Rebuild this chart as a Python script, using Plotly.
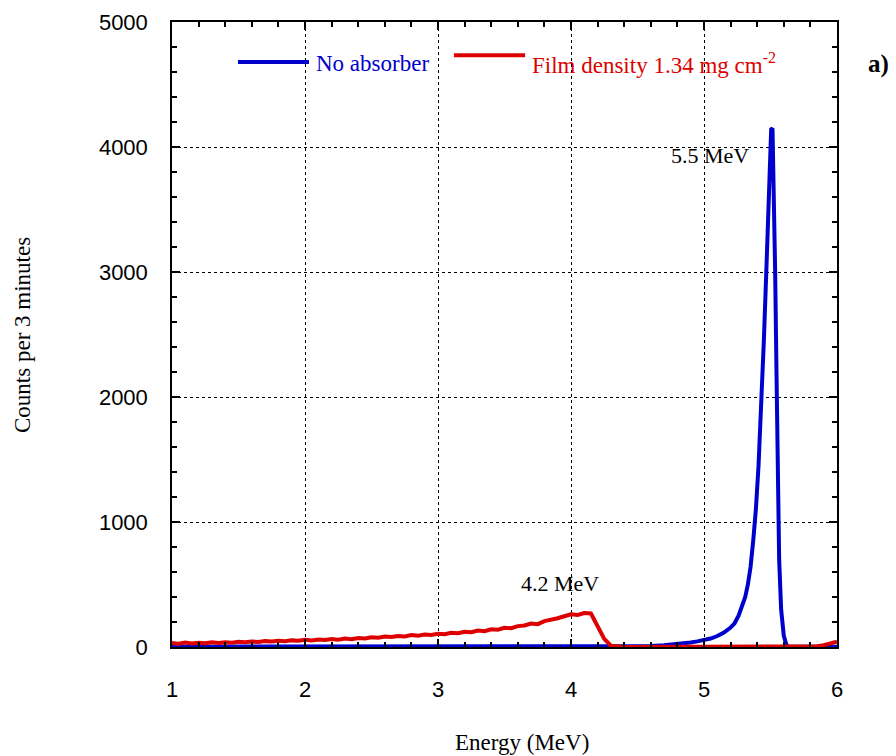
import plotly.graph_objects as go

# ---- data ----
red_x = [round(1.0 + 0.05 * i, 2) for i in range(101)]
red_y = [32, 27, 35, 29, 34, 31, 37, 33, 38, 35,
         41, 38, 44, 40, 47, 44, 50, 47, 53, 50,
         57, 53, 60, 56, 63, 59, 67, 63, 72, 68,
         78, 74, 84, 80, 88, 85, 95, 90, 100, 96,
         106, 102, 114, 110, 122, 118, 132, 127, 142, 138,
         154, 150, 167, 172, 188, 183, 207, 216, 230, 246,
         262, 256, 272, 268, 160, 65, 10, 3, 0, 0,
         0, 0, 0, 0, 0, 0, 0, 0, 0, 0,
         0, 0, 0, 0, 0, 0, 0, 0, 0, 0,
         0, 0, 0, 0, 0, 0, 3, 6, 14, 26, 42]

blue_x = [1.0, 1.5, 2.0, 2.5, 3.0, 3.5, 4.0, 4.3, 4.4, 4.5, 4.6, 4.7, 4.8, 4.85,
          4.9, 4.95, 5.0, 5.05, 5.1, 5.15, 5.2, 5.23, 5.26, 5.29, 5.31, 5.33,
          5.35, 5.37, 5.39, 5.41, 5.43, 5.45, 5.47, 5.49, 5.505, 5.515, 5.525,
          5.535, 5.545, 5.555, 5.565, 5.58, 5.60, 5.62, 5.64, 5.8, 6.0]
blue_y = [2, 2, 2, 2, 2, 2, 2, 2, 4, 6, 9, 14, 22, 28,
          36, 45, 56, 68, 88, 115, 155, 190, 250, 330, 400, 500,
          640, 850, 1100, 1450, 1900, 2450, 3050, 3700, 4140, 4150, 3700,
          3000, 2200, 1300, 700, 300, 90, 15, 2, 2, 2]

x_ticks = [1, 2, 3, 4, 5, 6]
y_ticks = [0, 1000, 2000, 3000, 4000, 5000]

BLUE = "#0000CC"
RED = "#DD0000"
TIMES = "Liberation Serif, Times New Roman, serif"
ARIAL = "Liberation Sans, Arial, sans-serif"

fig = go.Figure()
fig.add_trace(go.Scatter(x=blue_x, y=blue_y, mode="lines",
                         line=dict(color=BLUE, width=4), name="No absorber"))
fig.add_trace(go.Scatter(x=red_x, y=red_y, mode="lines",
                         line=dict(color=RED, width=4),
                         name="Film density 1.34 mg cm<sup>-2</sup>"))

axis_common = dict(
    showline=True, linecolor="black", linewidth=1.5, mirror="ticks",
    ticks="inside", ticklen=8, tickwidth=1.5, tickcolor="black",
    showgrid=True, gridcolor="black", gridwidth=1, griddash="3px,3px",
    zeroline=False,
    tickfont=dict(family=ARIAL, size=22, color="black"),
)

fig.update_xaxes(range=[1, 6], tickvals=x_ticks, ticklabelstandoff=22,
                 minor=dict(dtick=0.2, ticks="inside", ticklen=5, tickcolor="black", showgrid=False),
                 **axis_common)
fig.update_yaxes(range=[0, 5000], tickvals=y_ticks, ticklabelstandoff=18,
                 minor=dict(dtick=200, ticks="inside", ticklen=5, tickcolor="black", showgrid=False),
                 **axis_common)

# axis titles
fig.add_annotation(xref="paper", yref="paper", x=0.526, y=-0.152, text="Energy (MeV)",
                   showarrow=False, xanchor="center", yanchor="middle",
                   font=dict(family=TIMES, size=23, color="black"))
fig.add_annotation(xref="paper", yref="paper", x=-0.2256, y=0.4992, text="Counts per 3 minutes",
                   showarrow=False, textangle=-90, xanchor="center", yanchor="middle",
                   font=dict(family=TIMES, size=23, color="black"))

# legend drawn manually
fig.add_shape(type="line", xref="paper", yref="paper", x0=0.0992, x1=0.206, y0=0.936, y1=0.936,
              line=dict(color=BLUE, width=4))
fig.add_shape(type="line", xref="paper", yref="paper", x0=0.424, x1=0.531, y0=0.947, y1=0.947,
              line=dict(color=RED, width=4))
fig.add_annotation(xref="paper", yref="paper", x=0.214, y=0.934, xanchor="left", yanchor="middle",
                   text="No absorber", showarrow=False,
                   font=dict(family=TIMES, size=23, color=BLUE))
fig.add_annotation(xref="paper", yref="paper", x=0.538, y=0.934, xanchor="left", yanchor="middle",
                   text="Film density 1.34 mg cm<sup>-2</sup>", showarrow=False,
                   font=dict(family=TIMES, size=23, color=RED))

fig.add_annotation(x=5.045, y=3936, text="5.5 MeV", showarrow=False,
                   font=dict(family=TIMES, size=22, color="black"))
fig.add_annotation(x=3.92, y=512, text="4.2 MeV", showarrow=False,
                   font=dict(family=TIMES, size=22, color="black"))
fig.add_annotation(xref="paper", yref="paper", x=1.0617, y=0.9328, text="<b>a)</b>", showarrow=False,
                   xanchor="center", yanchor="middle",
                   font=dict(family=TIMES, size=25, color="black"))

fig.update_layout(
    width=896, height=756,
    margin=dict(l=172, r=59, t=22, b=109, autoexpand=False),
    paper_bgcolor="white", plot_bgcolor="white",
    showlegend=False,
)

fig.write_html("out.html")
